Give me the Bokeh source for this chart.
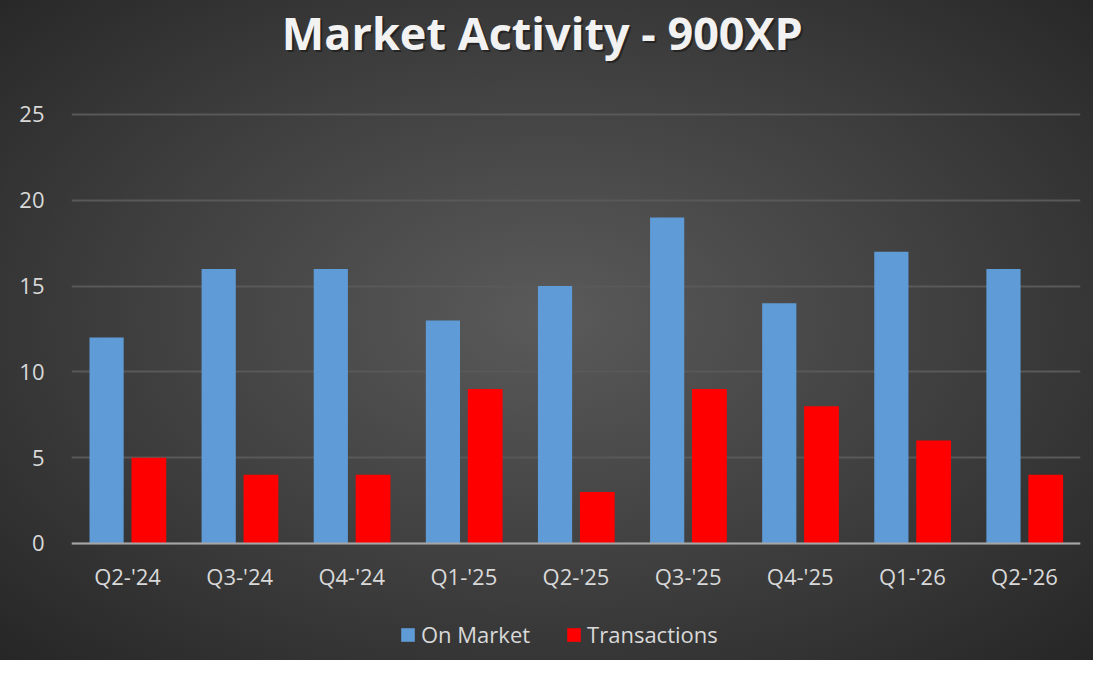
from bokeh.embed import file_html
from bokeh.models import ColumnDataSource, FixedTicker, Label, Legend, LegendItem
from bokeh.plotting import figure
from bokeh.resources import INLINE
from bokeh.transform import dodge

quarters = ["Q2-'24", "Q3-'24", "Q4-'24", "Q1-'25", "Q2-'25",
            "Q3-'25", "Q4-'25", "Q1-'26", "Q2-'26"]
on_market = [12, 16, 16, 13, 15, 19, 14, 17, 16]
transactions = [5, 4, 4, 9, 3, 9, 8, 6, 4]
y_ticks = [0, 5, 10, 15, 20, 25]

FONT = "Open Sans"
LABEL_COLOR = "#d9d9d9"

src = ColumnDataSource(data=dict(q=quarters, on_market=on_market,
                                 transactions=transactions))

# frame spans the full height; the y range is padded so 0..25 sits where the
# reference puts it and the title / legend fit inside the frame
p = figure(x_range=quarters, y_range=(-6.82, 31.64),
           width=1093, height=660,
           output_backend="svg", toolbar_location=None,
           min_border_left=71, min_border_right=13,
           min_border_top=0, min_border_bottom=0)

p.background_fill_color = None
p.border_fill_color = None
p.outline_line_color = None
p.styles = {"background": "radial-gradient(ellipse at 50% 48%, #5a5a5a 0%, #3e3e3e 55%, #262626 100%)"}
p.x_range.range_padding = 0

blue = p.vbar(x=dodge("q", -0.187, range=p.x_range), top="on_market", width=0.305,
              source=src, fill_color="#5f9bd6", line_color=None)
red = p.vbar(x=dodge("q", 0.19, range=p.x_range), top="transactions", width=0.31,
             source=src, fill_color="#ff0000", line_color=None)

# title (with a faint drop shadow)
for dx, dy, col, alpha in [(2, -2, "#111111", 0.55), (0, 0, "#f2f2f2", 1.0)]:
    p.add_layout(Label(x=4.2, y=29.78, text="Market Activity - 900XP",
                       x_offset=dx, y_offset=dy,
                       text_align="center", text_baseline="middle",
                       text_font=FONT, text_font_style="bold",
                       text_font_size="45px", text_color=col, text_alpha=alpha))

# axes
p.yaxis.ticker = FixedTicker(ticks=y_ticks)
p.yaxis.axis_line_color = None
p.yaxis.major_tick_line_color = None
p.yaxis.minor_tick_line_color = None
p.yaxis.major_label_standoff = 21
p.yaxis.major_label_text_font = FONT
p.yaxis.major_label_text_font_size = "22px"
p.yaxis.major_label_text_color = LABEL_COLOR

p.xaxis.fixed_location = 0
p.xaxis.axis_line_color = "#a6a6a6"
p.xaxis.axis_line_width = 2
p.xaxis.major_tick_line_color = None
p.xaxis.minor_tick_line_color = None
p.xaxis.major_label_standoff = 12
p.xaxis.major_label_text_font = FONT
p.xaxis.major_label_text_font_size = "22px"
p.xaxis.major_label_text_color = LABEL_COLOR

p.xgrid.grid_line_color = None
p.ygrid.grid_line_color = "#595959"
p.ygrid.grid_line_width = 2

legend = Legend(items=[LegendItem(label="On Market", renderers=[blue]),
                       LegendItem(label="Transactions", renderers=[red])],
                orientation="horizontal", location=(328, 11),
                label_text_font=FONT, label_text_font_size="22px",
                label_text_color=LABEL_COLOR, glyph_width=17, glyph_height=17,
                label_standoff=5, spacing=35, padding=0, margin=0,
                background_fill_alpha=0, border_line_color=None)
p.add_layout(legend, "center")

open("out.html", "w").write(file_html(p, INLINE))
